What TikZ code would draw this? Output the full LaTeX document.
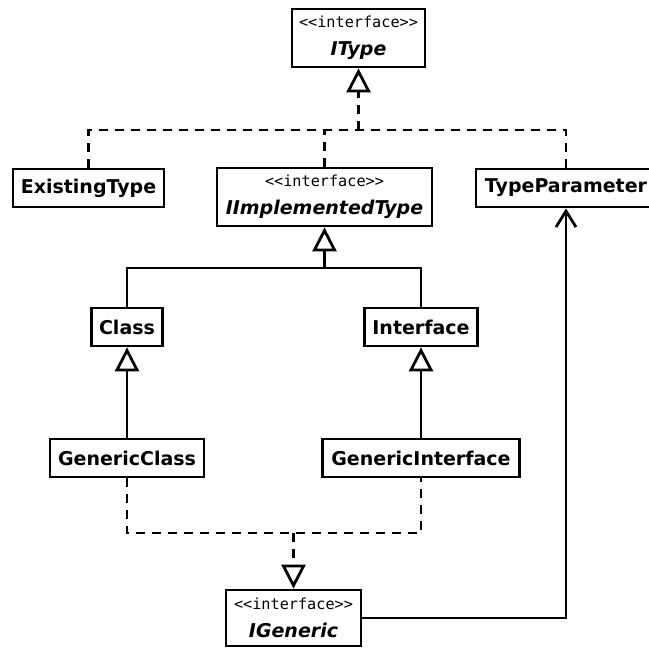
\documentclass[tikz,border=0pt]{standalone}
\usepackage{fontspec}
\setmainfont{DejaVu Sans}
\setmonofont{DejaVu Sans Mono}
\usetikzlibrary{arrows.meta}

\tikzset{
  umlbox/.style={draw, line width=2.8pt, fill=white, inner sep=0pt,
    font=\fontsize{19}{28}\selectfont\bfseries, align=center},
  iface/.style={umlbox},
  inherit/.style={line width=2.8pt,
    -{Triangle[open, length=24pt, width=24pt, line width=2.8pt, fill=white]}},
  realize/.style={line width=2.8pt, dash pattern=on 9pt off 7pt},
  realizetip/.style={realize,
    -{Triangle[open, length=24pt, width=24pt, line width=2.8pt, fill=white]}},
  assoc/.style={line width=2.8pt,
    -{Straight Barb[length=16pt, width=20pt, line width=2.8pt]}},
}
\newcommand{\stereotype}{{\ttfamily\mdseries\upshape\fontsize{15.2}{28}\selectfont <<interface>>}}

\begin{document}
\begin{tikzpicture}[x=1pt, y=-1pt]
  \useasboundingbox (0,0) rectangle (649,648);

  % interfaces
  \node[iface, minimum width=133pt, minimum height=58pt] (IT) at (358.5,38)
    {\stereotype\\\itshape IType};
  \node[iface, minimum width=215pt, minimum height=58pt] (IIT) at (324.5,197)
    {\stereotype\\\itshape IImplementedType};
  \node[iface, minimum width=135pt, minimum height=56pt] (IG) at (293.5,618)
    {\stereotype\\\itshape IGeneric};

  % classes
  \node[umlbox, minimum width=151pt, minimum height=38pt] (ET) at (88.5,188) {ExistingType};
  \node[umlbox, minimum width=180pt, minimum height=38pt] (TP) at (566,188) {TypeParameter};
  \node[umlbox, minimum width=71pt, minimum height=38pt] (CL) at (127,327) {Class};
  \node[umlbox, minimum width=113pt, minimum height=38pt] (IF) at (421,327) {Interface};
  \node[umlbox, minimum width=154pt, minimum height=38pt] (GC) at (127,458) {GenericClass};
  \node[umlbox, minimum width=197pt, minimum height=38pt] (GI) at (421,458) {GenericInterface};

  % junction points of the shared connectors
  \coordinate (jT) at (358.5,130);
  \coordinate (jI) at (324.5,268);
  \coordinate (jG) at (293.5,533);

  % realizations of IType
  \draw[realize] (ET.north) |- (TP.north |- jT) -- (TP.north);
  \draw[realize] (IIT.north) -- (IIT.north |- jT);
  \draw[realizetip] (jT) -- (IT.south);

  % generalizations of IImplementedType
  \draw[line width=2.8pt] (CL.north) |- (IF.north |- jI) -- (IF.north);
  \draw[inherit] (jI) -- (IIT.south);

  % generic subclasses
  \draw[inherit] (GC.north) -- (CL.south);
  \draw[inherit] (GI.north) -- (IF.south);

  % realizations of IGeneric
  \draw[realize] (GC.south) |- (GI.south |- jG) -- (GI.south);
  \draw[realizetip] (jG) -- (IG.north);

  % association to TypeParameter
  \draw[assoc] (IG.east) -| (TP.south);
\end{tikzpicture}
\end{document}
